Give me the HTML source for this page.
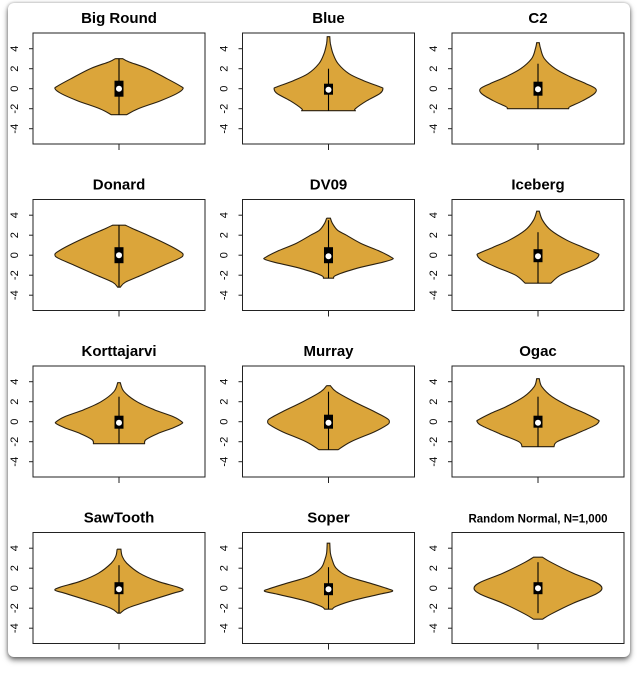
<!DOCTYPE html>
<html><head><meta charset="utf-8"><style>
html,body{margin:0;padding:0;background:#fff;width:640px;height:674px;overflow:hidden}
#card{position:absolute;left:8px;top:3px;width:622px;height:654px;background:#fff;border-radius:6px;box-shadow:0 3px 6px rgba(0,0,0,0.55),0 0 3px rgba(0,0,0,0.3)}
svg{position:absolute;left:0;top:0}
text{font-family:"Liberation Sans",sans-serif}
</style></head><body>
<div id="card"></div>
<svg id="chart" width="640" height="674"></svg>
<script>
const titles=["Big Round","Blue","C2","Donard","DV09","Iceberg","Korttajarvi","Murray","Ogac","SawTooth","Soper","Random Normal, N=1,000"];
const densY=[
[3,2.7,2,1,0.3,0,-0.5,-1.2,-2,-2.6],
[5.2,4.5,3.5,2.5,1.5,0.8,0.2,0,-0.5,-1.2,-2,-2.2],
[4.6,4,3,2,1.2,0.5,0,-0.5,-1.2,-1.8,-2],
[3,2.7,2,1,0.3,0,-0.3,-1,-2,-2.7,-3.2],
[3.7,3.2,2.5,2,1.2,0.4,-0.2,-0.4,-0.7,-1.3,-2,-2.3],
[4.4,3.5,2.5,1.5,0.8,0.2,0,-0.5,-1.2,-2,-2.8],
[3.9,3,2,1.2,0.5,0,-0.2,-0.6,-1.2,-1.8,-2.2],
[3.6,3,2,1,0.3,0,-0.3,-1,-2,-2.8],
[4.3,3.5,2.5,1.5,0.8,0.2,0,-0.4,-1.2,-2,-2.5],
[3.9,3.2,2.5,1.5,0.7,0.1,-0.2,-0.5,-1.2,-2,-2.5],
[4.5,3.5,2.8,2,1.2,0.5,0,-0.3,-0.6,-1.2,-1.8,-2.1],
[3.1,2.6,1.5,0.6,0,-0.6,-1.5,-2.6,-3.1]];
const densW=[
[0.06,0.15,0.45,0.75,0.95,1,0.9,0.65,0.3,0.12],
[0.02,0.03,0.07,0.15,0.32,0.55,0.8,0.85,0.8,0.6,0.42,0.42],
[0.02,0.04,0.1,0.27,0.5,0.75,0.9,0.88,0.7,0.5,0.48],
[0.1,0.2,0.45,0.78,0.97,1,0.95,0.7,0.35,0.1,0.02],
[0.03,0.06,0.14,0.28,0.5,0.8,0.98,1,0.85,0.45,0.12,0.08],
[0.02,0.07,0.2,0.45,0.7,0.92,0.95,0.88,0.65,0.35,0.2],
[0.02,0.08,0.28,0.55,0.85,0.98,0.98,0.85,0.6,0.42,0.4],
[0.03,0.12,0.4,0.72,0.92,0.95,0.92,0.72,0.35,0.15],
[0.02,0.06,0.22,0.5,0.75,0.93,0.95,0.88,0.6,0.3,0.25],
[0.03,0.05,0.12,0.32,0.6,0.92,1,0.85,0.5,0.13,0.02],
[0.02,0.03,0.06,0.12,0.3,0.65,0.9,1,0.8,0.4,0.12,0.06],
[0.07,0.2,0.55,0.9,1,0.9,0.55,0.2,0.07]];
const q1=[-0.8,-0.6,-0.7,-0.8,-0.8,-0.7,-0.7,-0.7,-0.6,-0.6,-0.7,-0.6];
const q3=[0.8,0.5,0.7,0.8,0.8,0.6,0.6,0.7,0.6,0.6,0.5,0.6];
const med=[0,-0.1,-0.05,0,-0.1,-0.1,-0.1,-0.1,-0.1,-0.1,-0.1,0];
const whLo=[-2.6,-2.2,-2,-3.2,-2.3,-2.8,-2.2,-2.8,-2.5,-2.5,-2.1,-2.5];
const whHi=[3,2,2.5,3,3.5,2.3,2.5,3,2.5,2.3,2.1,2.6];
const yTicks=[-4,-2,0,2,4];

const NS="http://www.w3.org/2000/svg";
const svg=document.getElementById('chart');
function mk(tag,attrs,parent){const e=document.createElementNS(NS,tag);for(const k in attrs)e.setAttribute(k,attrs[k]);(parent||svg).appendChild(e);return e;}
const BW=172,BH=111,HALF=64,UNIT=10;
function spline(pts){let d='';for(let i=0;i<pts.length-1;i++){const p0=pts[Math.max(0,i-1)],p1=pts[i],p2=pts[i+1],p3=pts[Math.min(pts.length-1,i+2)];
const c1=[p1[0]+(p2[0]-p0[0])/6,p1[1]+(p2[1]-p0[1])/6],c2=[p2[0]-(p3[0]-p1[0])/6,p2[1]-(p3[1]-p1[1])/6];
d+=` C${c1[0].toFixed(1)},${c1[1].toFixed(1)} ${c2[0].toFixed(1)},${c2[1].toFixed(1)} ${p2[0].toFixed(1)},${p2[1].toFixed(1)}`;}return d;}
titles.forEach((t,i)=>{
  const c=i%3,r=Math.floor(i/3);
  const bx=33+c*209.5,by=33+r*166.5;
  const cx=bx+BW/2,zy=by+55.7;
  const ys=v=>zy-v*UNIT;
  const g=mk('g',{});
  
  
  const tt=mk('text',{x:cx,y:by-10,'text-anchor':'middle','font-weight':'bold','font-size':i==11?11.5:15,fill:'#000'},g);
  tt.textContent=t;
  
  
  const Y=densY[i],W=densW[i];
  const right=Y.map((v,k)=>[cx+W[k]*HALF,ys(v)]);
  const left=Y.map((v,k)=>[cx-W[k]*HALF,ys(v)]).reverse();
  let d=`M${cx-W[0]*HALF},${ys(Y[0])} L${right[0][0]},${right[0][1]}`+spline(right)+` L${left[0][0]},${left[0][1]}`+spline(left)+' Z';
  const vp=mk('path',{d:d,fill:'#DBA53A',stroke:'#2a2010','stroke-width':1.1},g);
  
  
  const wl=mk('line',{x1:cx,x2:cx,y1:ys(whLo[i]),y2:ys(whHi[i]),stroke:'#000','stroke-width':1.1},g);
  
  
  const bxr=mk('rect',{x:cx-4.5,width:9,y:ys(q3[i]),height:ys(q1[i])-ys(q3[i]),fill:'#000'},g);
  
  
  const md=mk('circle',{cx:cx,cy:ys(med[i]),r:3,fill:'#fff'},g);
  
  
  const fr=mk('rect',{x:bx,y:by,width:BW,height:BH,fill:'none',stroke:'#222','stroke-width':1},g);
  
  
  yTicks.forEach(v=>{
    mk('line',{x1:bx-4,x2:bx,y1:ys(v),y2:ys(v),stroke:'#222','stroke-width':1},g);
    const lx=bx-18,ly=ys(v);
    const tl=mk('text',{x:lx,y:ly,'text-anchor':'middle','dominant-baseline':'central','font-size':11,fill:'#000',transform:`rotate(-90 ${lx} ${ly})`},g);
    tl.textContent=v;
    
    
  });
  mk('line',{x1:cx,x2:cx,y1:by+BH,y2:by+BH+6,stroke:'#222','stroke-width':1},g);
});
</script>
</body></html>
